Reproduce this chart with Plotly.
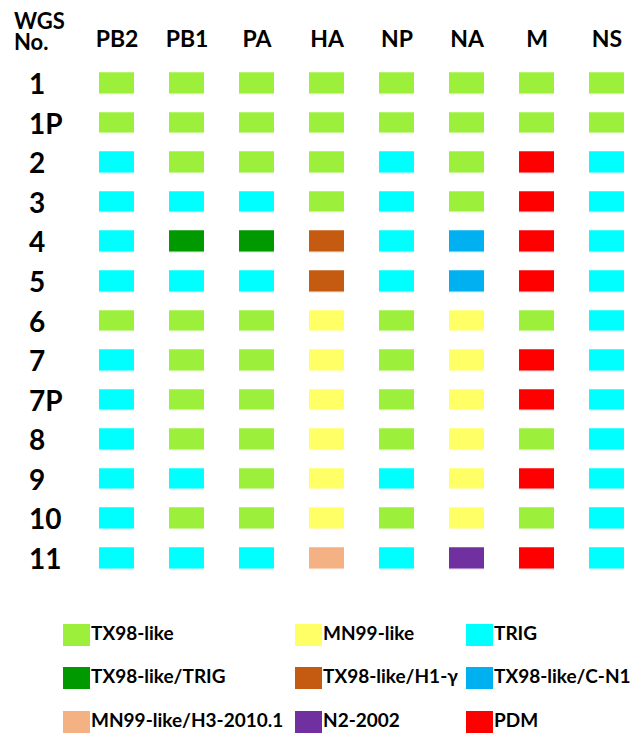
import plotly.graph_objects as go

# ---------------- data ----------------
segments = ["PB2", "PB1", "PA", "HA", "NP", "NA", "M", "NS"]
wgs_ids = ["1", "1P", "2", "3", "4", "5", "6", "7", "7P", "8", "9", "10", "11"]

lineages = ["TX98-like", "MN99-like", "TRIG",
            "TX98-like/TRIG", "TX98-like/H1-\u03b3", "TX98-like/C-N1",
            "MN99-like/H3-2010.1", "N2-2002", "PDM"]
lineage_colors = ["#9CF03C", "#FFFF66", "#00FFFF",
                  "#009900", "#C55A11", "#00B0F0",
                  "#F4B183", "#7030A0", "#FF0000"]

# lineage of each segment, one list per WGS row (order = segments)
genotypes = [
    ["TX98-like", "TX98-like", "TX98-like", "TX98-like", "TX98-like", "TX98-like", "TX98-like", "TX98-like"],
    ["TX98-like", "TX98-like", "TX98-like", "TX98-like", "TX98-like", "TX98-like", "TX98-like", "TX98-like"],
    ["TRIG", "TX98-like", "TX98-like", "TX98-like", "TRIG", "TX98-like", "PDM", "TRIG"],
    ["TRIG", "TRIG", "TRIG", "TX98-like", "TRIG", "TX98-like", "PDM", "TRIG"],
    ["TRIG", "TX98-like/TRIG", "TX98-like/TRIG", "TX98-like/H1-\u03b3", "TRIG", "TX98-like/C-N1", "PDM", "TRIG"],
    ["TRIG", "TRIG", "TRIG", "TX98-like/H1-\u03b3", "TRIG", "TX98-like/C-N1", "PDM", "TRIG"],
    ["TX98-like", "TX98-like", "TX98-like", "MN99-like", "TX98-like", "MN99-like", "TX98-like", "TRIG"],
    ["TRIG", "TX98-like", "TX98-like", "MN99-like", "TX98-like", "MN99-like", "PDM", "TRIG"],
    ["TRIG", "TX98-like", "TX98-like", "MN99-like", "TX98-like", "MN99-like", "PDM", "TRIG"],
    ["TRIG", "TX98-like", "TX98-like", "MN99-like", "TX98-like", "MN99-like", "TX98-like", "TRIG"],
    ["TRIG", "TRIG", "TX98-like", "MN99-like", "TRIG", "MN99-like", "PDM", "TRIG"],
    ["TRIG", "TX98-like", "TX98-like", "MN99-like", "TX98-like", "MN99-like", "TX98-like", "TRIG"],
    ["TRIG", "TRIG", "TRIG", "MN99-like/H3-2010.1", "TRIG", "N2-2002", "PDM", "TRIG"],
]

# ---------------- layout constants ----------------
W, H = 636, 741
FONT = "Lato, 'Open Sans', Arial, sans-serif"
GRID_LEFT, GRID_TOP, GRID_BOTTOM = 82, 63.2, 577.8
CELL_W = 70.0
BOX_W, BOX_H = 35, 21

# legend layout (pixels)
LEG_COL_LEFT = [63, 295, 466]
LEG_ROW_Y = [635, 678, 722]
LEG_BOX_W, LEG_BOX_H = 27, 22
LEG_COLS = 3

# ---------------- build ----------------
n = len(lineages)
code = {name: i for i, name in enumerate(lineages)}
z = [[code[v] for v in row] for row in genotypes]

colorscale = []
for i, c in enumerate(lineage_colors):
    colorscale.append([i / n, c])
    colorscale.append([(i + 1) / n, c])

row_h = (GRID_BOTTOM - GRID_TOP) / len(wgs_ids)
plot_w = W - GRID_LEFT

fig = go.Figure()
fig.add_trace(go.Heatmap(
    z=z, x=list(range(len(segments))), y=list(range(len(wgs_ids))),
    colorscale=colorscale, zmin=-0.5, zmax=n - 0.5, showscale=False,
    xgap=CELL_W - BOX_W, ygap=row_h - BOX_H, hoverinfo="skip",
))

# legend swatches (bars) and labels
leg_y = [LEG_ROW_Y[i // LEG_COLS] for i in range(n)]
leg_left = [LEG_COL_LEFT[i % LEG_COLS] for i in range(n)]
fig.add_trace(go.Bar(
    orientation="h", y=leg_y, x=[LEG_BOX_W] * n, base=leg_left,
    width=LEG_BOX_H, marker=dict(color=lineage_colors, line=dict(width=0)),
    xaxis="x2", yaxis="y2", hoverinfo="skip", showlegend=False,
))
fig.add_trace(go.Scatter(
    x=[l + LEG_BOX_W + 1 for l in leg_left], y=leg_y, text=lineages,
    mode="text", textposition="middle right",
    textfont=dict(family=FONT, size=19, color="black", weight="bold"),
    xaxis="x2", yaxis="y2", hoverinfo="skip", showlegend=False, cliponaxis=False,
))

annotations = []
for i, lab in enumerate(wgs_ids):
    annotations.append(dict(
        x=27 / W, xref="paper", xanchor="left", y=i, yref="y", yanchor="middle",
        text=lab, showarrow=False,
        font=dict(family=FONT, size=28, color="black", weight="bold"),
    ))
annotations.append(dict(x=12 / W, xref="paper", xanchor="left", y=1 - 20 / H,
                        yref="paper", yanchor="middle", text="WGS", showarrow=False,
                        font=dict(family=FONT, size=22, color="black", weight="bold")))
annotations.append(dict(x=12 / W, xref="paper", xanchor="left", y=1 - 42 / H,
                        yref="paper", yanchor="middle", text="No.", showarrow=False,
                        font=dict(family=FONT, size=22, color="black", weight="bold")))

fig.update_layout(
    width=W, height=H, margin=dict(l=0, r=0, t=0, b=0),
    paper_bgcolor="white", plot_bgcolor="white", showlegend=False,
    bargap=0,
    xaxis=dict(domain=[GRID_LEFT / W, 1], range=[-0.5, -0.5 + plot_w / CELL_W],
               side="top", tickvals=list(range(len(segments))), ticktext=segments,
               tickfont=dict(family=FONT, size=23, color="black", weight="bold"),
               showgrid=False, zeroline=False, showline=False, ticks="",
               ticklabelstandoff=11, fixedrange=True),
    yaxis=dict(domain=[1 - GRID_BOTTOM / H, 1 - GRID_TOP / H],
               range=[len(wgs_ids) - 0.5, -0.5], showticklabels=False,
               showgrid=False, zeroline=False, showline=False, ticks="", fixedrange=True),
    xaxis2=dict(domain=[0, 1], range=[0, W], visible=False, fixedrange=True,
                anchor="y2"),
    yaxis2=dict(domain=[0, 1 - 600 / H], range=[H, 600], visible=False,
                fixedrange=True, anchor="x2"),
    annotations=annotations,
)

fig.write_html("out.html", config={"displayModeBar": False},
               post_script="document.body.style.margin='0';document.body.style.overflow='hidden';")
